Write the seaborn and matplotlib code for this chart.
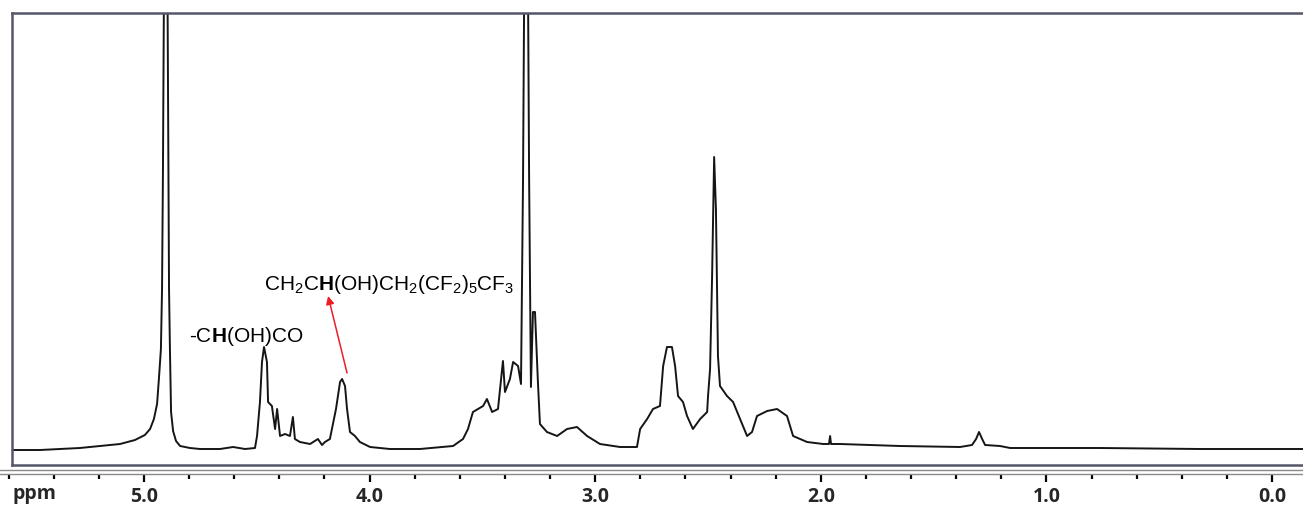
import matplotlib
matplotlib.use("Agg")
import matplotlib.pyplot as plt
from matplotlib.ticker import MultipleLocator, FixedLocator
import seaborn as sns
import pandas as pd

# chemical shift (ppm) and intensity (arbitrary units)
ppm = [5.585, 5.461, 5.372, 5.284, 5.195, 5.106, 5.040, 4.996, 4.973, 4.956,
       4.942, 4.933, 4.925, 4.920, 4.916, 4.911, 4.902, 4.898, 4.889, 4.885,
       4.880, 4.871, 4.858, 4.840, 4.796, 4.752, 4.663, 4.605, 4.552, 4.508,
       4.499, 4.486, 4.477, 4.468, 4.455, 4.450, 4.433, 4.419, 4.410, 4.397,
       4.375, 4.353, 4.340, 4.331, 4.309, 4.264, 4.229, 4.211, 4.198, 4.176,
       4.167, 4.149, 4.131, 4.122, 4.109, 4.100, 4.087, 4.065, 4.043, 3.998,
       3.910, 3.777, 3.630, 3.586, 3.564, 3.542, 3.497, 3.480, 3.457, 3.431,
       3.422, 3.409, 3.400, 3.378, 3.364, 3.342, 3.329, 3.320, 3.311, 3.302,
       3.293, 3.285, 3.276, 3.267, 3.254, 3.245, 3.214, 3.169, 3.125, 3.081,
       3.036, 2.979, 2.890, 2.815, 2.801, 2.770, 2.744, 2.713, 2.699, 2.682,
       2.660, 2.646, 2.633, 2.611, 2.593, 2.567, 2.535, 2.504, 2.500, 2.491,
       2.482, 2.473, 2.465, 2.456, 2.447, 2.416, 2.389, 2.358, 2.327, 2.305,
       2.283, 2.238, 2.194, 2.150, 2.123, 2.061, 1.990, 1.964, 1.959, 1.955,
       1.915, 1.649, 1.383, 1.330, 1.312, 1.299, 1.285, 1.272, 1.206, 1.161,
       0.984, 0.762, 0.319, -0.137]
intensity = [-1, -1, 0, 1, 3, 5, 9, 14, 20, 30,
             45, 73, 100, 160, 277, 480, 620, 560, 160, 100,
             37, 18, 8, 3, 1, 0, 0, 2, 0, 1,
             13, 47, 87, 102, 87, 47, 43, 20, 40, 13,
             15, 13, 32, 10, 7, 5, 10, 4, 7, 10,
             20, 40, 67, 70, 63, 40, 17, 13, 7, 2,
             0, 0, 3, 10, 20, 37, 43, 50, 37, 40,
             60, 88, 57, 70, 87, 83, 65, 270, 600, 620,
             270, 62, 137, 137, 67, 25, 17, 13, 20, 22,
             13, 5, 2, 2, 20, 30, 40, 43, 83, 102,
             102, 83, 53, 47, 33, 20, 30, 37, 53, 80,
             173, 292, 240, 93, 63, 53, 47, 30, 13, 17,
             33, 38, 40, 33, 13, 7, 5, 5, 13, 5,
             5, 3, 2, 4, 10, 17, 10, 4, 3, 1,
             1, 1, 0, 0]

major_ticks = [5.0, 4.0, 3.0, 2.0, 1.0, 0.0]
major_labels = ["5.0", "4.0", "3.0", "2.0", "1.0", "0.0"]
label_main = r"-C$\mathbf{H}$(OH)CO"
label_side = r"CH$_2$C$\mathbf{H}$(OH)CH$_2$(CF$_2$)$_5$CF$_3$"

sns.set_style("white")
plt.rcParams["font.family"] = ["Liberation Sans", "DejaVu Sans"]
plt.rcParams["mathtext.fontset"] = "custom"
plt.rcParams["mathtext.rm"] = "Liberation Sans"
plt.rcParams["mathtext.it"] = "Liberation Sans"
plt.rcParams["mathtext.bf"] = "Liberation Sans:bold"

W, H = 1303, 506
fig = plt.figure(figsize=(W / 100, H / 100), dpi=100)
fig.patch.set_facecolor("white")

xlim = (5.585, -0.137)

# main spectrum box
ax = fig.add_axes([12 / W, (H - 466) / H, 1 - 12 / W, (466 - 14) / H])
df = pd.DataFrame({"ppm": ppm, "intensity": intensity})
sns.lineplot(data=df, x="ppm", y="intensity", sort=False, estimator=None,
             color="#151515", linewidth=1.4, ax=ax)
ax.set_xlim(*xlim)
ax.set_ylim(-16, 436)
ax.set_xticks([])
ax.set_yticks([])
ax.set_xlabel("")
ax.set_ylabel("")
for side in ["top", "left", "bottom"]:
    ax.spines[side].set_visible(True)
    ax.spines[side].set_color("#55566a")
    ax.spines[side].set_linewidth(1.8)
ax.spines["right"].set_visible(False)

ax.text(4.800, 113, label_main, fontsize=15, ha="left", va="center", color="black")
ax.text(4.470, 165, label_side, fontsize=15, ha="left", va="center", color="black")
ax.annotate("", xy=(4.184, 153), xytext=(4.100, 76),
            arrowprops=dict(arrowstyle="-|>", color="#ee1c24", lw=1.1,
                            mutation_scale=12, shrinkA=0, shrinkB=0))

# ppm scale below the box
sx = fig.add_axes([0, (H - 475) / H, 1, 4 / H])
sx.set_xlim((5.585 + 12 / 225.6), xlim[1])
sx.set_ylim(0, 1)
sx.patch.set_alpha(0)
for side in ["left", "right"]:
    sx.spines[side].set_visible(False)
for side in ["top", "bottom"]:
    sx.spines[side].set_color("#8a8a8a")
    sx.spines[side].set_linewidth(1.0)
sx.set_yticks([])
sx.xaxis.set_major_locator(FixedLocator(major_ticks))
sx.set_xticklabels(major_labels)
sx.xaxis.set_minor_locator(MultipleLocator(0.2))
sx.tick_params(axis="x", which="major", bottom=True, direction="out", length=6,
               width=1.6, color="black", pad=3, labelsize=14)
sx.tick_params(axis="x", which="minor", bottom=True, direction="out", length=3.5,
               width=1.6, color="black")
for lab in sx.get_xticklabels():
    lab.set_fontfamily(["Open Sans", "DejaVu Sans"])
    lab.set_fontweight("bold")

fig.text(12 / W, (H - 494) / H, "ppm", fontsize=14, fontweight="bold",
         family=["Open Sans", "DejaVu Sans"], ha="left", va="center")

fig.savefig("out.png", dpi=100)
